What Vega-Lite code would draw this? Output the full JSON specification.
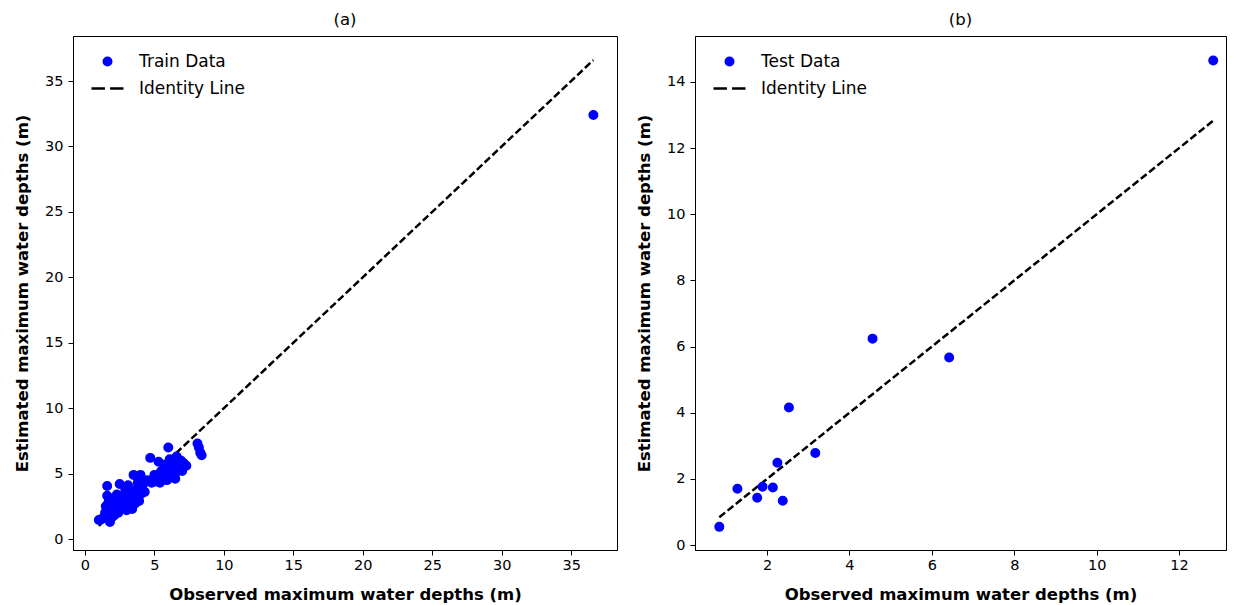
{
  "$schema": "https://vega.github.io/schema/vega-lite/v6.json",
  "padding": {"left": 14, "top": 11, "right": 5, "bottom": 0},
  "background": "white",
  "config": {
    "font": "DejaVu Sans",
    "view": {"stroke": "black", "strokeWidth": 1},
    "axis": {"grid": false, "domainColor": "black", "tickColor": "black", "tickSize": 5, "labelColor": "black", "labelFont": "DejaVu Sans", "labelFontSize": 14.5, "titleFont": "DejaVu Sans", "titleFontSize": 16.5, "titleFontWeight": "bold", "titleColor": "black", "labelPadding": 3, "titlePadding": 14},
    "axisX": {"titlePadding": 15},
    "axisY": {"labelPadding": 5},
    "title": {"font": "DejaVu Sans", "fontSize": 16.5, "fontWeight": "normal", "color": "black", "offset": 8},
    "legend": {"labelFont": "DejaVu Sans", "labelFontSize": 17, "labelColor": "black", "title": null, "orient": "none", "legendX": 17, "legendY": 8, "symbolSize": 1024, "labelOffset": 14, "rowPadding": -5, "padding": 0, "symbolStrokeWidth": 2.5, "symbolOpacity": 1}
  },
  "datasets": {
    "train": [
      {"obs": 1.0, "est": 1.45, "series": "Train Data"},
      {"obs": 1.15, "est": 1.5, "series": "Train Data"},
      {"obs": 1.3, "est": 1.6, "series": "Train Data"},
      {"obs": 1.45, "est": 2.0, "series": "Train Data"},
      {"obs": 1.5, "est": 2.5, "series": "Train Data"},
      {"obs": 1.6, "est": 4.05, "series": "Train Data"},
      {"obs": 1.6, "est": 3.3, "series": "Train Data"},
      {"obs": 1.7, "est": 2.8, "series": "Train Data"},
      {"obs": 1.8, "est": 1.3, "series": "Train Data"},
      {"obs": 1.9, "est": 1.6, "series": "Train Data"},
      {"obs": 2.0, "est": 2.2, "series": "Train Data"},
      {"obs": 2.0, "est": 3.1, "series": "Train Data"},
      {"obs": 2.1, "est": 1.8, "series": "Train Data"},
      {"obs": 2.2, "est": 2.6, "series": "Train Data"},
      {"obs": 2.3, "est": 3.4, "series": "Train Data"},
      {"obs": 2.4, "est": 2.0, "series": "Train Data"},
      {"obs": 2.5, "est": 4.2, "series": "Train Data"},
      {"obs": 2.5, "est": 2.9, "series": "Train Data"},
      {"obs": 2.6, "est": 2.3, "series": "Train Data"},
      {"obs": 2.7, "est": 3.3, "series": "Train Data"},
      {"obs": 2.8, "est": 2.5, "series": "Train Data"},
      {"obs": 2.9, "est": 3.8, "series": "Train Data"},
      {"obs": 3.0, "est": 2.2, "series": "Train Data"},
      {"obs": 3.0, "est": 3.0, "series": "Train Data"},
      {"obs": 3.1, "est": 4.1, "series": "Train Data"},
      {"obs": 3.2, "est": 2.6, "series": "Train Data"},
      {"obs": 3.3, "est": 3.5, "series": "Train Data"},
      {"obs": 3.4, "est": 2.3, "series": "Train Data"},
      {"obs": 3.5, "est": 4.9, "series": "Train Data"},
      {"obs": 3.5, "est": 3.1, "series": "Train Data"},
      {"obs": 3.6, "est": 2.7, "series": "Train Data"},
      {"obs": 3.7, "est": 3.8, "series": "Train Data"},
      {"obs": 3.8, "est": 4.3, "series": "Train Data"},
      {"obs": 3.9, "est": 2.9, "series": "Train Data"},
      {"obs": 4.0, "est": 3.4, "series": "Train Data"},
      {"obs": 4.0, "est": 4.9, "series": "Train Data"},
      {"obs": 4.1, "est": 3.8, "series": "Train Data"},
      {"obs": 4.2, "est": 4.2, "series": "Train Data"},
      {"obs": 4.3, "est": 3.6, "series": "Train Data"},
      {"obs": 4.5, "est": 4.5, "series": "Train Data"},
      {"obs": 4.7, "est": 6.2, "series": "Train Data"},
      {"obs": 4.8, "est": 4.3, "series": "Train Data"},
      {"obs": 5.0, "est": 4.9, "series": "Train Data"},
      {"obs": 5.1, "est": 4.4, "series": "Train Data"},
      {"obs": 5.3, "est": 5.9, "series": "Train Data"},
      {"obs": 5.4, "est": 4.3, "series": "Train Data"},
      {"obs": 5.5, "est": 5.2, "series": "Train Data"},
      {"obs": 5.6, "est": 4.8, "series": "Train Data"},
      {"obs": 5.8, "est": 5.7, "series": "Train Data"},
      {"obs": 5.9, "est": 4.5, "series": "Train Data"},
      {"obs": 6.0, "est": 7.0, "series": "Train Data"},
      {"obs": 6.0, "est": 5.2, "series": "Train Data"},
      {"obs": 6.1, "est": 6.1, "series": "Train Data"},
      {"obs": 6.2, "est": 4.7, "series": "Train Data"},
      {"obs": 6.3, "est": 5.5, "series": "Train Data"},
      {"obs": 6.4, "est": 5.9, "series": "Train Data"},
      {"obs": 6.5, "est": 5.0, "series": "Train Data"},
      {"obs": 6.5, "est": 4.6, "series": "Train Data"},
      {"obs": 6.6, "est": 6.3, "series": "Train Data"},
      {"obs": 6.7, "est": 5.3, "series": "Train Data"},
      {"obs": 6.8, "est": 5.6, "series": "Train Data"},
      {"obs": 6.9, "est": 6.0, "series": "Train Data"},
      {"obs": 7.0, "est": 5.2, "series": "Train Data"},
      {"obs": 7.1, "est": 5.8, "series": "Train Data"},
      {"obs": 7.3, "est": 5.6, "series": "Train Data"},
      {"obs": 8.1, "est": 7.3, "series": "Train Data"},
      {"obs": 8.2, "est": 7.0, "series": "Train Data"},
      {"obs": 8.3, "est": 6.6, "series": "Train Data"},
      {"obs": 8.4, "est": 6.4, "series": "Train Data"},
      {"obs": 36.6, "est": 32.4, "series": "Train Data"}
    ],
    "test": [
      {"obs": 4.56, "est": 6.24, "series": "Test Data"},
      {"obs": 6.42, "est": 5.67, "series": "Test Data"},
      {"obs": 2.53, "est": 4.16, "series": "Test Data"},
      {"obs": 3.17, "est": 2.78, "series": "Test Data"},
      {"obs": 2.25, "est": 2.49, "series": "Test Data"},
      {"obs": 1.28, "est": 1.7, "series": "Test Data"},
      {"obs": 1.89, "est": 1.76, "series": "Test Data"},
      {"obs": 2.14, "est": 1.74, "series": "Test Data"},
      {"obs": 1.76, "est": 1.43, "series": "Test Data"},
      {"obs": 2.38, "est": 1.34, "series": "Test Data"},
      {"obs": 0.84, "est": 0.55, "series": "Test Data"},
      {"obs": 12.83, "est": 14.65, "series": "Test Data"}
    ],
    "idA": [{"obs": 1.0, "est": 1.0}, {"obs": 36.6, "est": 36.6}],
    "idB": [{"obs": 0.84, "est": 0.84}, {"obs": 12.83, "est": 12.83}]
  },
  "spacing": 18,
  "resolve": {"scale": {"color": "independent", "fill": "independent", "stroke": "independent", "shape": "independent", "x": "independent", "y": "independent"}, "legend": {"color": "independent", "fill": "independent", "stroke": "independent", "shape": "independent"}},
  "hconcat": [
    {
      "width": 544,
      "height": 514,
      "title": "(a)",
      "layer": [
        {
          "data": {"name": "idA"},
          "mark": {"type": "line", "color": "black", "strokeDash": [7.4, 3.2], "strokeWidth": 2.5},
          "encoding": {
            "x": {"field": "obs", "type": "quantitative", "scale": {"domain": [-0.86, 38.3], "nice": false, "zero": false}, "axis": {"values": [0, 5, 10, 15, 20, 25, 30, 35], "title": "Observed maximum water depths (m)"}},
            "y": {"field": "est", "type": "quantitative", "scale": {"domain": [-0.84, 38.44], "nice": false, "zero": false}, "axis": {"values": [0, 5, 10, 15, 20, 25, 30, 35], "title": "Estimated maximum water depths (m)"}}
          }
        },
        {
          "data": {"name": "train"},
          "mark": {"type": "point", "filled": true, "size": 1024, "opacity": 1, "strokeWidth": 2.5},
          "encoding": {
            "x": {"field": "obs", "type": "quantitative"},
            "y": {"field": "est", "type": "quantitative"},
            "fill": {"field": "series", "type": "nominal", "scale": {"domain": ["Train Data", "Identity Line"], "range": ["#0000ff", "#000000"]}},
            "stroke": {"field": "series", "type": "nominal", "scale": {"domain": ["Train Data", "Identity Line"], "range": ["#0000ff", "#000000"]}},
            "shape": {"field": "series", "type": "nominal", "scale": {"domain": ["Train Data", "Identity Line"], "range": ["M-0.234,0A0.234,0.234 0 1,0 0.234,0A0.234,0.234 0 1,0 -0.234,0Z", "M-1,0H-0.16M0.16,0H1"]}}
          }
        }
      ]
    },
    {
      "width": 531,
      "height": 514,
      "title": "(b)",
      "layer": [
        {
          "data": {"name": "idB"},
          "mark": {"type": "line", "color": "black", "strokeDash": [7.4, 3.2], "strokeWidth": 2.5},
          "encoding": {
            "x": {"field": "obs", "type": "quantitative", "scale": {"domain": [0.25, 13.14], "nice": false, "zero": false}, "axis": {"values": [2, 4, 6, 8, 10, 12], "title": "Observed maximum water depths (m)"}},
            "y": {"field": "est", "type": "quantitative", "scale": {"domain": [-0.15, 15.39], "nice": false, "zero": false}, "axis": {"values": [0, 2, 4, 6, 8, 10, 12, 14], "title": "Estimated maximum water depths (m)"}}
          }
        },
        {
          "data": {"name": "test"},
          "mark": {"type": "point", "filled": true, "size": 1024, "opacity": 1, "strokeWidth": 2.5},
          "encoding": {
            "x": {"field": "obs", "type": "quantitative"},
            "y": {"field": "est", "type": "quantitative"},
            "fill": {"field": "series", "type": "nominal", "scale": {"domain": ["Test Data", "Identity Line"], "range": ["#0000ff", "#000000"]}},
            "stroke": {"field": "series", "type": "nominal", "scale": {"domain": ["Test Data", "Identity Line"], "range": ["#0000ff", "#000000"]}},
            "shape": {"field": "series", "type": "nominal", "scale": {"domain": ["Test Data", "Identity Line"], "range": ["M-0.234,0A0.234,0.234 0 1,0 0.234,0A0.234,0.234 0 1,0 -0.234,0Z", "M-1,0H-0.16M0.16,0H1"]}}
          }
        }
      ]
    }
  ]
}
